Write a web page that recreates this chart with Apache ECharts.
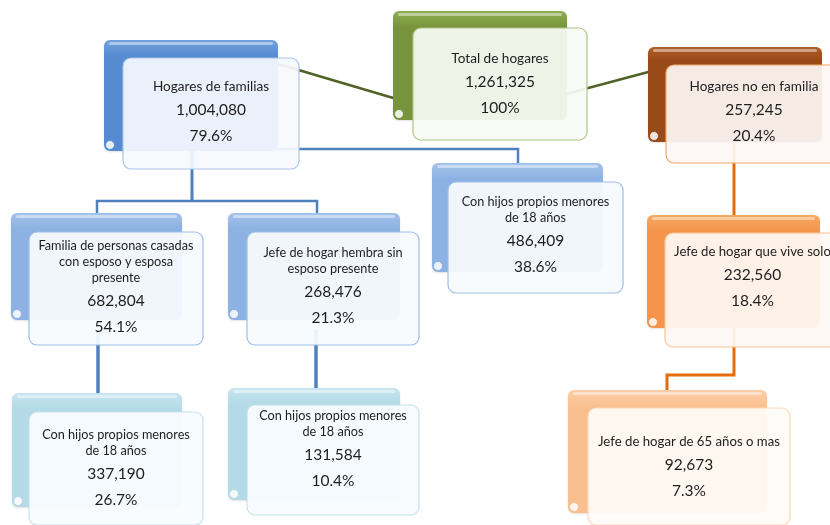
<!DOCTYPE html>
<html>
<head>
<meta charset="utf-8">
<script src="https://cdn.jsdelivr.net/npm/echarts@6/dist/echarts.min.js"></script>
<style>
  html, body { margin: 0; padding: 0; background: #fff; }
  #chart { width: 830px; height: 525px; }
</style>
</head>
<body>
<div id="chart"></div>
<script>
// datos del diagrama
var nombres = [
  'Total de hogares',
  'Hogares de familias',
  'Hogares no en familia',
  'Familia de personas casadas\ncon esposo y esposa\npresente',
  'Jefe de hogar hembra sin\nesposo presente',
  'Con hijos propios menores\nde 18 años',
  'Jefe de hogar que vive solo',
  'Con hijos propios menores\nde 18 años',
  'Con hijos propios menores\nde 18 años',
  'Jefe de hogar de 65 años o mas'
]
var valores = [1261325, 1004080, 257245, 682804, 268476, 486409, 232560, 337190, 131584, 92673]
var porcentajes = [100, 79.6, 20.4, 54.1, 21.3, 38.6, 18.4, 26.7, 10.4, 7.3]

// posiciones (x, y, ancho, alto) de la caja de fondo y la tarjeta
var fondo = [
  [393, 11, 174, 109],
  [104, 40, 174, 111],
  [648, 47, 174, 95],
  [11, 213, 171, 107],
  [228, 213, 172, 107],
  [432, 163, 171, 109],
  [647, 215, 173, 113],
  [12, 393, 170, 114],
  [228, 388, 172, 112],
  [568, 390, 199, 123]
]
var tarjeta = [
  [413, 28, 174, 112],
  [123, 58, 176, 111],
  [666, 65, 176, 98],
  [29, 232, 174, 113],
  [247, 232, 172, 113],
  [448, 182, 175, 111],
  [665, 233, 175, 114],
  [29, 412, 174, 113],
  [247, 405, 172, 110],
  [588, 408, 202, 117]
]
var textoY = [85, 113, 113, 288, 287, 236, 278, 469, 450, 468]
var estiloTitulo = ['tg', 'tg', 'tg', 't', 't', 't', 'tm', 't', 't', 'tm']
var tema = ['verde', 'azul', 'cafe', 'azul2', 'azul2', 'azul2', 'naranja', 'celeste', 'celeste', 'durazno']

// conectores
var conectores = [
  { c: '#4f6228', w: 2.5, coords: [[268, 61], [400, 100]] },
  { c: '#4f6228', w: 2.5, coords: [[562, 95], [652, 71]] },
  { c: '#4f81bd', w: 3, coords: [[192, 140], [192, 201]] },
  { c: '#4f81bd', w: 2.5, coords: [[97, 215], [97, 201], [317, 201], [317, 215]] },
  { c: '#4f81bd', w: 2.5, coords: [[192, 149], [518, 149], [518, 165]] },
  { c: '#4f81bd', w: 3.5, coords: [[98, 330], [98, 395]] },
  { c: '#4f81bd', w: 3.5, coords: [[316, 330], [316, 390]] },
  { c: '#e46c0a', w: 3, coords: [[734, 140], [734, 217]] },
  { c: '#e46c0a', w: 3, coords: [[734, 320], [734, 375], [667, 375], [667, 392]] }
]

var colores = {
  verde:   { top: '#8fae52', bot: '#77943c', fill: 'rgba(248,250,244,0.93)', stroke: '#adc687' },
  azul:    { top: '#72a0dc', bot: '#568bd2', fill: 'rgba(246,249,253,0.93)', stroke: '#a9c5ea' },
  cafe:    { top: '#b05d26', bot: '#984a18', fill: 'rgba(253,248,244,0.93)', stroke: '#f4a864' },
  azul2:   { top: '#a3c2eb', bot: '#8cb1e2', fill: 'rgba(248,251,254,0.93)', stroke: '#9ebde7' },
  naranja: { top: '#f9a963', bot: '#f5944a', fill: 'rgba(254,249,244,0.93)', stroke: '#f9c495' },
  celeste: { top: '#c6e5ef', bot: '#b3dae6', fill: 'rgba(249,252,254,0.93)', stroke: '#c3e2ec' },
  durazno: { top: '#fccda4', bot: '#f9bf8e', fill: 'rgba(255,251,248,0.93)', stroke: '#fbd8b9' }
}

var fuente = 'Lato, "Open Sans", sans-serif'

const formatoPct = (p) => p === 100 ? '100%' : p.toFixed(1) + '%'

const textoCaja = (i) => {
  var titulo = nombres[i].split('\n').map((s) => '{' + estiloTitulo[i] + '|' + s + '}').join('\n')
  return titulo + '\n{n|' + valores[i].toLocaleString('en-US') + '}\n{p|' + formatoPct(porcentajes[i]) + '}'
}

const renderCaja = (params, api) => {
  var i = api.value(4)
  var col = colores[tema[i]]
  var p = api.coord([api.value(0), api.value(1)])
  var s = api.size([api.value(2), api.value(3)])
  var f = tarjeta[i]
  var fp = api.coord([f[0], f[1]])
  var fs = api.size([f[2], f[3]])
  var tc = api.coord([f[0] + f[2] / 2, textoY[i]])
  return {
    type: 'group',
    children: [{
      type: 'rect',
      shape: { x: p[0], y: p[1], width: s[0], height: s[1], r: 6 },
      style: {
        fill: new echarts.graphic.LinearGradient(0, 0, 0, 1, [
          { offset: 0, color: col.top },
          { offset: 0.15, color: col.bot },
          { offset: 1, color: col.bot }
        ]),
        shadowBlur: 2,
        shadowColor: 'rgba(0,0,0,0.12)',
        shadowOffsetY: 1
      }
    }, {
      type: 'rect',
      shape: { x: p[0] + 5, y: p[1] + 2, width: s[0] - 10, height: 3, r: 1.5 },
      style: { fill: 'rgba(255,255,255,0.45)' }
    }, {
      type: 'circle',
      shape: { cx: p[0] + 6, cy: p[1] + s[1] - 6, r: 4.5 },
      style: { fill: 'rgba(255,255,255,0.85)', stroke: col.bot, lineWidth: 1 }
    }, {
      type: 'rect',
      shape: { x: fp[0], y: fp[1], width: fs[0], height: fs[1], r: 8 },
      style: { fill: col.fill, stroke: col.stroke, lineWidth: 1.2 }
    }, {
      type: 'text',
      style: {
        x: tc[0],
        y: tc[1],
        align: 'center',
        verticalAlign: 'middle',
        text: textoCaja(i),
        rich: {
          tg: { fontSize: 13.6, lineHeight: 16, fontFamily: fuente, fill: '#1e1e1e' },
          tm: { fontSize: 13.2, lineHeight: 16, fontFamily: fuente, fill: '#1e1e1e' },
          t: { fontSize: 12.7, lineHeight: 16, fontFamily: fuente, fill: '#1e1e1e' },
          n: { fontSize: 15.5, lineHeight: 30, fontFamily: fuente, fill: '#1e1e1e' },
          p: { fontSize: 15.5, lineHeight: 22, fontFamily: fuente, fill: '#1e1e1e' }
        }
      }
    }]
  }
}

var myChart = echarts.init(document.getElementById('chart'))
var option = {
  backgroundColor: '#ffffff',
  animation: false,
  grid: { left: 0, right: 0, top: 0, bottom: 0 },
  xAxis: { type: 'value', min: 0, max: 830, show: false },
  yAxis: { type: 'value', min: 0, max: 525, inverse: true, show: false },
  series: [{
    type: 'lines',
    coordinateSystem: 'cartesian2d',
    polyline: true,
    z: 1,
    silent: true,
    data: conectores.map((l) => ({
      coords: l.coords,
      lineStyle: { color: l.c, width: l.w, opacity: 1 }
    }))
  }, {
    type: 'custom',
    z: 2,
    clip: false,
    renderItem: renderCaja,
    encode: { x: 0, y: 1 },
    data: fondo.map((b, i) => [b[0], b[1], b[2], b[3], i])
  }]
}
myChart.setOption(option)
</script>
</body>
</html>
